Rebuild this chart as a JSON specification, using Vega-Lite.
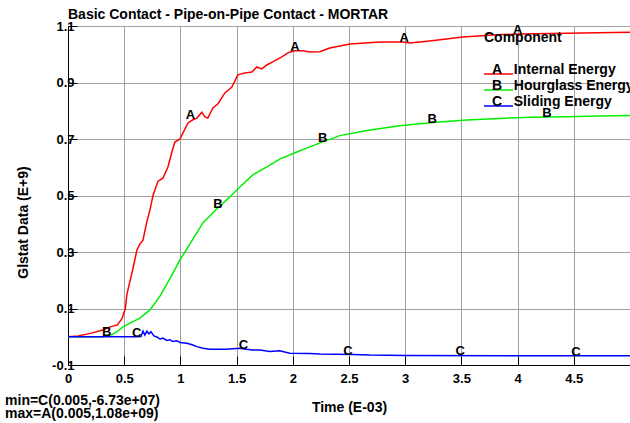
{
  "$schema": "https://vega.github.io/schema/vega-lite/v6.json",
  "width": 562,
  "height": 339,
  "autosize": {"type": "none"},
  "padding": {"left": 68, "top": 26, "right": 0, "bottom": 58},
  "background": "white",
  "title": {"text": "Basic Contact - Pipe-on-Pipe Contact - MORTAR", "anchor": "start", "frame": "group", "font": "Liberation Sans", "fontSize": 14, "fontWeight": "bold", "color": "black", "baseline": "alphabetic", "offset": -13},
  "config": {
    "view": {"stroke": "#555555", "strokeWidth": 1},
    "axis": {
      "domainColor": "black", "tickColor": "black", "gridColor": "#a0a0a0", "gridWidth": 1,
      "labelFont": "Liberation Sans", "labelFontSize": 13, "labelFontWeight": "bold", "labelColor": "black",
      "titleFont": "Liberation Sans", "titleFontSize": 14, "titleFontWeight": "bold", "titleColor": "black"
    },
    "legend": {
      "titleFont": "Liberation Sans", "titleFontSize": 14, "titleFontWeight": "bold", "titleColor": "black",
      "labelFont": "Liberation Sans", "labelFontSize": 14, "labelFontWeight": "bold", "labelColor": "black"
    }
  },
  "datasets": {
    "curves": [
      {"t": 0, "e": 0, "series": "Internal Energy"},
      {"t": 0.09, "e": 0.003, "series": "Internal Energy"},
      {"t": 0.2, "e": 0.012, "series": "Internal Energy"},
      {"t": 0.31, "e": 0.024, "series": "Internal Energy"},
      {"t": 0.37, "e": 0.034, "series": "Internal Energy"},
      {"t": 0.44, "e": 0.042, "series": "Internal Energy"},
      {"t": 0.48, "e": 0.064, "series": "Internal Energy"},
      {"t": 0.51, "e": 0.1, "series": "Internal Energy"},
      {"t": 0.524, "e": 0.15, "series": "Internal Energy"},
      {"t": 0.55, "e": 0.194, "series": "Internal Energy"},
      {"t": 0.58, "e": 0.245, "series": "Internal Energy"},
      {"t": 0.613, "e": 0.307, "series": "Internal Energy"},
      {"t": 0.64, "e": 0.328, "series": "Internal Energy"},
      {"t": 0.667, "e": 0.342, "series": "Internal Energy"},
      {"t": 0.7, "e": 0.405, "series": "Internal Energy"},
      {"t": 0.73, "e": 0.45, "series": "Internal Energy"},
      {"t": 0.756, "e": 0.5, "series": "Internal Energy"},
      {"t": 0.8, "e": 0.55, "series": "Internal Energy"},
      {"t": 0.827, "e": 0.557, "series": "Internal Energy"},
      {"t": 0.845, "e": 0.562, "series": "Internal Energy"},
      {"t": 0.889, "e": 0.601, "series": "Internal Energy"},
      {"t": 0.924, "e": 0.654, "series": "Internal Energy"},
      {"t": 0.951, "e": 0.689, "series": "Internal Energy"},
      {"t": 0.996, "e": 0.7, "series": "Internal Energy"},
      {"t": 1.022, "e": 0.721, "series": "Internal Energy"},
      {"t": 1.067, "e": 0.757, "series": "Internal Energy"},
      {"t": 1.111, "e": 0.768, "series": "Internal Energy"},
      {"t": 1.147, "e": 0.774, "series": "Internal Energy"},
      {"t": 1.191, "e": 0.795, "series": "Internal Energy"},
      {"t": 1.218, "e": 0.778, "series": "Internal Energy"},
      {"t": 1.244, "e": 0.774, "series": "Internal Energy"},
      {"t": 1.289, "e": 0.81, "series": "Internal Energy"},
      {"t": 1.333, "e": 0.824, "series": "Internal Energy"},
      {"t": 1.396, "e": 0.863, "series": "Internal Energy"},
      {"t": 1.458, "e": 0.884, "series": "Internal Energy"},
      {"t": 1.511, "e": 0.927, "series": "Internal Energy"},
      {"t": 1.573, "e": 0.934, "series": "Internal Energy"},
      {"t": 1.636, "e": 0.937, "series": "Internal Energy"},
      {"t": 1.68, "e": 0.955, "series": "Internal Energy"},
      {"t": 1.724, "e": 0.948, "series": "Internal Energy"},
      {"t": 1.769, "e": 0.962, "series": "Internal Energy"},
      {"t": 1.822, "e": 0.973, "series": "Internal Energy"},
      {"t": 1.902, "e": 0.991, "series": "Internal Energy"},
      {"t": 1.956, "e": 1.005, "series": "Internal Energy"},
      {"t": 2.018, "e": 1.012, "series": "Internal Energy"},
      {"t": 2.089, "e": 1.012, "series": "Internal Energy"},
      {"t": 2.151, "e": 1.008, "series": "Internal Energy"},
      {"t": 2.24, "e": 1.009, "series": "Internal Energy"},
      {"t": 2.329, "e": 1.022, "series": "Internal Energy"},
      {"t": 2.507, "e": 1.036, "series": "Internal Energy"},
      {"t": 2.773, "e": 1.043, "series": "Internal Energy"},
      {"t": 2.978, "e": 1.043, "series": "Internal Energy"},
      {"t": 3.04, "e": 1.04, "series": "Internal Energy"},
      {"t": 3.218, "e": 1.047, "series": "Internal Energy"},
      {"t": 3.511, "e": 1.061, "series": "Internal Energy"},
      {"t": 3.778, "e": 1.068, "series": "Internal Energy"},
      {"t": 4.018, "e": 1.072, "series": "Internal Energy"},
      {"t": 4.436, "e": 1.074, "series": "Internal Energy"},
      {"t": 5.0, "e": 1.078, "series": "Internal Energy"},
      {"t": 0, "e": 0, "series": "Hourglass Energy"},
      {"t": 0.3, "e": 0, "series": "Hourglass Energy"},
      {"t": 0.373, "e": 0.004, "series": "Hourglass Energy"},
      {"t": 0.43, "e": 0.016, "series": "Hourglass Energy"},
      {"t": 0.489, "e": 0.035, "series": "Hourglass Energy"},
      {"t": 0.56, "e": 0.05, "series": "Hourglass Energy"},
      {"t": 0.64, "e": 0.066, "series": "Hourglass Energy"},
      {"t": 0.729, "e": 0.095, "series": "Hourglass Energy"},
      {"t": 0.818, "e": 0.144, "series": "Hourglass Energy"},
      {"t": 0.907, "e": 0.206, "series": "Hourglass Energy"},
      {"t": 0.996, "e": 0.272, "series": "Hourglass Energy"},
      {"t": 1.084, "e": 0.328, "series": "Hourglass Energy"},
      {"t": 1.2, "e": 0.403, "series": "Hourglass Energy"},
      {"t": 1.333, "e": 0.456, "series": "Hourglass Energy"},
      {"t": 1.44, "e": 0.495, "series": "Hourglass Energy"},
      {"t": 1.529, "e": 0.53, "series": "Hourglass Energy"},
      {"t": 1.644, "e": 0.573, "series": "Hourglass Energy"},
      {"t": 1.769, "e": 0.601, "series": "Hourglass Energy"},
      {"t": 1.884, "e": 0.629, "series": "Hourglass Energy"},
      {"t": 2.036, "e": 0.654, "series": "Hourglass Energy"},
      {"t": 2.151, "e": 0.672, "series": "Hourglass Energy"},
      {"t": 2.267, "e": 0.69, "series": "Hourglass Energy"},
      {"t": 2.418, "e": 0.712, "series": "Hourglass Energy"},
      {"t": 2.658, "e": 0.73, "series": "Hourglass Energy"},
      {"t": 2.951, "e": 0.747, "series": "Hourglass Energy"},
      {"t": 3.244, "e": 0.758, "series": "Hourglass Energy"},
      {"t": 3.547, "e": 0.767, "series": "Hourglass Energy"},
      {"t": 3.84, "e": 0.773, "series": "Hourglass Energy"},
      {"t": 4.133, "e": 0.777, "series": "Hourglass Energy"},
      {"t": 4.436, "e": 0.779, "series": "Hourglass Energy"},
      {"t": 4.729, "e": 0.781, "series": "Hourglass Energy"},
      {"t": 5.0, "e": 0.783, "series": "Hourglass Energy"},
      {"t": 0, "e": 0, "series": "Sliding Energy"},
      {"t": 0.604, "e": 0, "series": "Sliding Energy"},
      {"t": 0.649, "e": 0.001, "series": "Sliding Energy"},
      {"t": 0.667, "e": 0.02, "series": "Sliding Energy"},
      {"t": 0.684, "e": 0.006, "series": "Sliding Energy"},
      {"t": 0.702, "e": 0.02, "series": "Sliding Energy"},
      {"t": 0.72, "e": 0.01, "series": "Sliding Energy"},
      {"t": 0.738, "e": 0.018, "series": "Sliding Energy"},
      {"t": 0.764, "e": 0.003, "series": "Sliding Energy"},
      {"t": 0.791, "e": -0.001, "series": "Sliding Energy"},
      {"t": 0.818, "e": -0.008, "series": "Sliding Energy"},
      {"t": 0.844, "e": -0.005, "series": "Sliding Energy"},
      {"t": 0.88, "e": -0.013, "series": "Sliding Energy"},
      {"t": 0.907, "e": -0.011, "series": "Sliding Energy"},
      {"t": 0.933, "e": -0.017, "series": "Sliding Energy"},
      {"t": 0.969, "e": -0.014, "series": "Sliding Energy"},
      {"t": 0.996, "e": -0.02, "series": "Sliding Energy"},
      {"t": 1.058, "e": -0.023, "series": "Sliding Energy"},
      {"t": 1.111, "e": -0.029, "series": "Sliding Energy"},
      {"t": 1.147, "e": -0.035, "series": "Sliding Energy"},
      {"t": 1.2, "e": -0.041, "series": "Sliding Energy"},
      {"t": 1.262, "e": -0.044, "series": "Sliding Energy"},
      {"t": 1.404, "e": -0.044, "series": "Sliding Energy"},
      {"t": 1.529, "e": -0.041, "series": "Sliding Energy"},
      {"t": 1.582, "e": -0.044, "series": "Sliding Energy"},
      {"t": 1.644, "e": -0.047, "series": "Sliding Energy"},
      {"t": 1.707, "e": -0.047, "series": "Sliding Energy"},
      {"t": 1.796, "e": -0.052, "series": "Sliding Energy"},
      {"t": 1.884, "e": -0.05, "series": "Sliding Energy"},
      {"t": 1.973, "e": -0.058, "series": "Sliding Energy"},
      {"t": 2.151, "e": -0.059, "series": "Sliding Energy"},
      {"t": 2.24, "e": -0.061, "series": "Sliding Energy"},
      {"t": 2.533, "e": -0.063, "series": "Sliding Energy"},
      {"t": 2.684, "e": -0.065, "series": "Sliding Energy"},
      {"t": 3.0, "e": -0.066, "series": "Sliding Energy"},
      {"t": 4.0, "e": -0.067, "series": "Sliding Energy"},
      {"t": 5.0, "e": -0.0673, "series": "Sliding Energy"}
    ],
    "markers": [
      {"t": 1.09, "e": 0.77, "letter": "A"},
      {"t": 2.02, "e": 1.012, "letter": "A"},
      {"t": 2.99, "e": 1.043, "letter": "A"},
      {"t": 4.0, "e": 1.072, "letter": "A"},
      {"t": 0.345, "e": 0.002, "letter": "B"},
      {"t": 1.335, "e": 0.456, "letter": "B"},
      {"t": 2.265, "e": 0.69, "letter": "B"},
      {"t": 3.24, "e": 0.758, "letter": "B"},
      {"t": 4.26, "e": 0.778, "letter": "B"},
      {"t": 0.61, "e": 0, "letter": "C"},
      {"t": 1.56, "e": -0.043, "letter": "C"},
      {"t": 2.49, "e": -0.063, "letter": "C"},
      {"t": 3.49, "e": -0.066, "letter": "C"},
      {"t": 4.52, "e": -0.067, "letter": "C"}
    ],
    "notes": [
      {"note": "min=C(0.005,-6.73e+07)\nmax=A(0.005,1.08e+09)"}
    ]
  },
  "layer": [
    {
      "data": {"name": "curves"},
      "mark": {"type": "line", "strokeWidth": 1.5, "interpolate": "linear"},
      "encoding": {
        "x": {
          "field": "t", "type": "quantitative",
          "scale": {"domain": [0, 5], "nice": false, "zero": false},
          "axis": {
            "title": "Time (E-03)",
            "titlePadding": 15,
            "values": [0, 0.25, 0.5, 0.75, 1, 1.25, 1.5, 1.75, 2, 2.25, 2.5, 2.75, 3, 3.25, 3.5, 3.75, 4, 4.25, 4.5, 4.75, 5],
            "labelExpr": "(round(datum.value*4) % 2 == 0 && datum.value < 4.9) ? ('' + datum.value) : ''",
            "labelFlush": false,
            "labelPadding": 16,
            "tickSize": {"condition": {"test": "round(datum.value*4) % 2 != 0", "value": -5}, "value": -9},
            "gridOpacity": {"condition": {"test": "round(datum.value*4) % 2 != 0", "value": 0}, "value": 1}
          }
        },
        "y": {
          "field": "e", "type": "quantitative",
          "scale": {"domain": [-0.1, 1.1], "nice": false, "zero": false},
          "axis": {
            "title": "Glstat Data (E+9)",
            "titleX": -38,
            "titleY": 196,
            "values": [-0.1, -0.05, 0, 0.05, 0.1, 0.15, 0.2, 0.25, 0.3, 0.35, 0.4, 0.45, 0.5, 0.55, 0.6, 0.65, 0.7, 0.75, 0.8, 0.85, 0.9, 0.95, 1, 1.05, 1.1],
            "labelExpr": "abs(round(datum.value*20)) % 4 == 2 ? ((datum.value < 0 ? '-' : '') + format(abs(datum.value), '.1f')) : ''",
            "labelPadding": 3,
            "tickSize": {"condition": {"test": "round(datum.value*20) % 2 != 0", "value": -5}, "value": -9},
            "gridOpacity": {"condition": {"test": "round(datum.value*20) % 2 != 0", "value": 0}, "value": 1}
          }
        },
        "color": {
          "field": "series", "type": "nominal",
          "scale": {"domain": ["Internal Energy", "Hourglass Energy", "Sliding Energy"], "range": ["#ff0000", "#00ee00", "#0000ff"]},
          "legend": {
            "title": "Component",
            "orient": "none",
            "legendX": 416,
            "legendY": 5,
            "padding": 0,
            "titlePadding": 22,
            "rowPadding": 2,
            "symbolType": "M-2.333,0H7.333",
            "symbolSize": 36,
            "symbolStrokeWidth": 1.5,
            "labelOffset": -6,
            "labelBaseline": "alphabetic",
            "labelExpr": "'\u00a0\u00a0\u00a0' + (datum.label == 'Internal Energy' ? 'A' : datum.label == 'Hourglass Energy' ? 'B' : 'C') + '\u00a0\u00a0\u00a0' + datum.label"
          }
        }
      }
    },
    {
      "data": {"name": "markers"},
      "mark": {"type": "text", "font": "Liberation Sans", "fontSize": 13, "fontWeight": "bold", "color": "black", "baseline": "middle", "align": "center", "dy": -4},
      "encoding": {
        "x": {"field": "t", "type": "quantitative"},
        "y": {"field": "e", "type": "quantitative"},
        "text": {"field": "letter"}
      }
    },
    {
      "data": {"name": "notes"},
      "mark": {"type": "text", "font": "Liberation Sans", "fontSize": 14, "fontWeight": "bold", "color": "black", "align": "left", "baseline": "alphabetic", "lineBreak": "\n", "lineHeight": 13},
      "encoding": {
        "x": {"datum": -0.56},
        "y": {"datum": -0.2416},
        "text": {"field": "note"}
      }
    }
  ]
}
